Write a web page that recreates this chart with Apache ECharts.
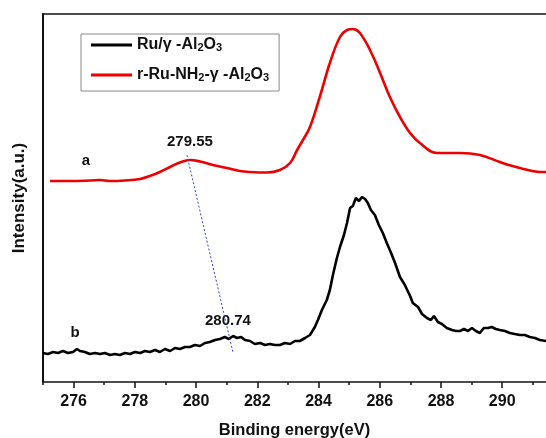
<!DOCTYPE html>
<html>
<head>
<meta charset="utf-8">
<script src="https://cdn.jsdelivr.net/npm/echarts@6/dist/echarts.min.js"></script>
<style>html,body{margin:0;padding:0;background:#fff}#c{width:546px;height:438px}</style>
</head>
<body>
<div id="c"></div>
<script>
// ---- data (binding energy in eV, intensity in arbitrary units) ----
var seriesNames = ['Ru/γ -Al2O3', 'r-Ru-NH2-γ -Al2O3'];

// curve b (black): Ru/γ-Al2O3
var energyB = [275.00,275.16,275.33,275.49,275.65,275.82,275.98,276.11,276.21,276.37,276.53,276.70,276.86,277.02,277.19,277.35,277.51,277.68,277.84,278.00,278.17,278.33,278.49,278.66,278.82,278.98,279.15,279.31,279.47,279.64,279.80,279.96,280.13,280.29,280.45,280.62,280.78,280.94,281.07,281.21,281.34,281.47,281.60,281.76,281.92,282.09,282.25,282.41,282.58,282.74,282.90,283.07,283.23,283.39,283.56,283.72,283.88,283.98,284.11,284.27,284.37,284.47,284.60,284.70,284.83,284.93,285.03,285.12,285.22,285.32,285.42,285.52,285.61,285.71,285.84,285.97,286.10,286.23,286.37,286.50,286.66,286.82,286.99,287.08,287.25,287.38,287.54,287.67,287.77,287.90,288.03,288.19,288.36,288.49,288.62,288.75,288.88,289.01,289.14,289.27,289.40,289.53,289.66,289.79,289.92,290.09,290.25,290.41,290.58,290.74,290.90,291.07,291.23,291.43];
var intensityB = [29,28,30,29,31,29,30,33,31,30,28,29,28,29,27,28,27,29,28,30,29,31,30,32,30,33,31,34,33,35,35,37,36,39,40,42,43,45,43,46,44,45,42,41,38,39,37,38,37,37,39,38,41,41,44,47,55,62,72,82,92,107,124,135,147,159,174,176,184,181,185,183,179,172,167,157,149,139,129,119,105,97,86,79,75,68,64,62,66,60,58,54,52,51,51,53,51,54,51,49,54,54,55,53,52,51,49,48,47,47,45,44,42,41];

// curve a (red): r-Ru-NH2-γ-Al2O3
var energyA = [275.23,275.88,276.53,276.86,277.19,277.68,278.17,278.49,278.82,279.15,279.47,279.80,280.13,280.55,281.01,281.43,281.76,282.32,282.74,283.07,283.30,283.49,283.72,284.04,284.37,284.70,284.93,285.12,285.35,285.68,286.01,286.33,286.66,286.99,287.31,287.87,288.62,289.27,289.92,290.58,291.23,291.43];
var intensityA = [201,201,201.5,202,201,201.5,203,206,210,215,219.5,222,220.5,217,214,211,210,209.5,212,219,232,242,255,285,319,345,352,353,349,332,309,285,265,249,239,229,229,227,220,214,210,210];

// peak marker (dotted guide between the two small peaks)
var guideEnergy = [279.70, 281.21];
var guideIntensity = [227, 29];

// text annotations
var noteText = ['279.55', '280.74', 'a', 'b'];
var noteEnergy = [279.80, 281.04, 276.40, 276.05];
var noteIntensity = [240, 61, 221, 49];

// axis
var xMin = 275, xMax = 291.43;
var majorTicks = [276, 278, 280, 282, 284, 286, 288, 290];
var minorTicks = [275, 277, 279, 281, 283, 285, 287, 289, 291];
var yMin = 0, yMax = 368;

function zip(a, b) { return a.map(function (v, i) { return [v, b[i]]; }); }

var chart = echarts.init(document.getElementById('c'), null, {renderer: 'canvas'});
var font = 'Liberation Sans, Arial, Helvetica, sans-serif';
var legendRich = {
  s: {fontSize: 11, fontWeight: 'bold', fontFamily: font, color: '#111', lineHeight: 4, verticalAlign: 'bottom'},
  m: {fontSize: 16, fontWeight: 'bold', fontFamily: font, color: '#111', lineHeight: 16, verticalAlign: 'top'}
};
function legendFmt(name) {
  if (name === seriesNames[0]) return '{m|Ru/γ -Al}{s|2}{m|O}{s|3}';
  return '{m|r-Ru-NH}{s|2}{m|-γ -Al}{s|2}{m|O}{s|3}';
}

chart.setOption({
  animation: false,
  backgroundColor: '#fff',
  grid: {left: 43, right: 0, top: 14, bottom: 56, containLabel: false, outerBoundsMode: 'none'},
  legend: {
    orient: 'vertical', left: 81, top: 34,
    data: [{name: seriesNames[0], icon: 'rect'}, {name: seriesNames[1], icon: 'rect'}],
    itemWidth: 41, itemHeight: 3, itemGap: 14,
    padding: [3, 10, 8, 10],
    borderColor: '#888', borderWidth: 1,
    formatter: legendFmt,
    textStyle: {rich: legendRich, fontSize: 16, fontWeight: 'bold', fontFamily: font, color: '#111'}
  },
  xAxis: [{
    type: 'value', min: xMin, max: xMax, position: 'bottom',
    name: 'Binding energy(eV)', nameLocation: 'middle', nameGap: 40,
    nameTextStyle: {fontSize: 16.5, fontWeight: 'bold', fontFamily: font, color: '#111'},
    axisLine: {show: true, onZero: false, lineStyle: {color: '#111', width: 1.5}},
    axisTick: {show: true, inside: false, length: 6, customValues: majorTicks, lineStyle: {color: '#111', width: 1.5}},
    axisLabel: {show: true, customValues: majorTicks, margin: 12, fontSize: 16, fontWeight: 'bold', fontFamily: font, color: '#111'},
    splitLine: {show: false}
  }, {
    type: 'value', min: xMin, max: xMax, position: 'bottom',
    axisLine: {show: false},
    axisTick: {show: true, inside: false, length: 3, customValues: minorTicks, lineStyle: {color: '#111', width: 1.5}},
    axisLabel: {show: false},
    splitLine: {show: false}
  }, {
    type: 'value', min: xMin, max: xMax, position: 'top',
    axisLine: {show: true, onZero: false, lineStyle: {color: '#111', width: 1.5}},
    axisTick: {show: false}, axisLabel: {show: false}, splitLine: {show: false}
  }],
  yAxis: {
    type: 'value', min: yMin, max: yMax,
    name: 'Intensity(a.u.)', nameLocation: 'middle', nameGap: 15, nameRotate: 90,
    nameTextStyle: {fontSize: 17, fontWeight: 'bold', fontFamily: font, color: '#111'},
    axisLine: {show: true, onZero: false, lineStyle: {color: '#111', width: 2}},
    axisTick: {show: false}, axisLabel: {show: false}, splitLine: {show: false}
  },
  series: [{
    name: seriesNames[0], type: 'line', xAxisIndex: 0,
    data: zip(energyB, intensityB), showSymbol: false, symbol: 'none',
    lineStyle: {color: '#000', width: 2.6}, itemStyle: {color: '#000'}
  }, {
    name: seriesNames[1], type: 'line', xAxisIndex: 0,
    data: zip(energyA, intensityA), showSymbol: false, symbol: 'none', smooth: 0.4,
    lineStyle: {color: '#ee0000', width: 2.6}, itemStyle: {color: '#ee0000'}
  }, {
    name: 'guide', type: 'line', xAxisIndex: 0,
    data: zip(guideEnergy, guideIntensity), showSymbol: false, symbol: 'none',
    lineStyle: {color: '#3344cc', width: 1, type: [2, 2]}, silent: true
  }, {
    name: 'notes', type: 'scatter', xAxisIndex: 0, symbolSize: 0,
    itemStyle: {opacity: 1},
    data: noteText.map(function (t, i) { return {name: t, value: [noteEnergy[i], noteIntensity[i]]}; }),
    label: {show: true, position: 'inside', formatter: '{b}', fontSize: 15, fontWeight: 'bold', fontFamily: font, color: '#111', opacity: 1},
    silent: true
  }]
});
</script>
</body>
</html>
